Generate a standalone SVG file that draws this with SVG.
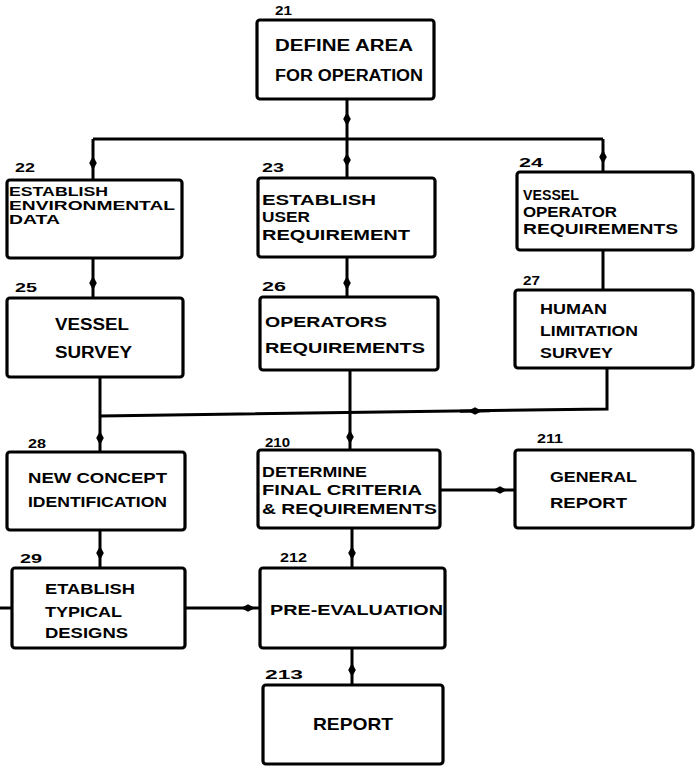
<svg xmlns="http://www.w3.org/2000/svg" width="700" height="766" viewBox="0 0 700 766">
<style>
.box{fill:#fff;stroke:#000;stroke-width:3.2}
.t{font-family:"Liberation Sans",Arial,sans-serif;font-weight:bold;fill:#000}
.lbl{font-family:"Liberation Sans",Arial,sans-serif;font-weight:bold;fill:#000;font-size:13px}
.c{fill:none;stroke:#000;stroke-width:3}
</style>
<defs>
<marker id="blob" viewBox="-7 -4 14 8" markerWidth="14" markerHeight="8" markerUnits="userSpaceOnUse" orient="auto">
<path d="M-7,0 L0,-3.8 L7,0 L0,3.8 Z" fill="#000"/>
</marker>
</defs>
<rect width="700" height="766" fill="#fff"/>
<g id="connectors">
<path class="c" d="M347 99 L347 119 L347 139" marker-mid="url(#blob)"/>
<path class="c" d="M93 139 L603 139"/>
<path class="c" d="M93 139 L93 163 L93 180" marker-mid="url(#blob)"/>
<path class="c" d="M347 139 L347 160 L347 177" marker-mid="url(#blob)"/>
<path class="c" d="M603 139 L603 157 L603 172" marker-mid="url(#blob)"/>
<path class="c" d="M93 258 L93 283 L93 298" marker-mid="url(#blob)"/>
<path class="c" d="M347 257 L347 283 L347 297" marker-mid="url(#blob)"/>
<path class="c" d="M603 250 L603 290"/>
<path class="c" d="M100 377 L100 438 L100 452" marker-mid="url(#blob)"/>
<path class="c" d="M350 370 L350 437 L350 450" marker-mid="url(#blob)"/>
<path class="c" d="M607 368 L607 409 L100 416"/>
<path class="c" d="M490 410.8 L475 411 L460 411.2" marker-mid="url(#blob)"/>
<path class="c" d="M100 530 L100 553 L100 568" marker-mid="url(#blob)"/>
<path class="c" d="M352 528 L352 553 L352 568" marker-mid="url(#blob)"/>
<path class="c" d="M440 490 L500 490 L515 490" marker-mid="url(#blob)"/>
<path class="c" d="M185 608 L248 608 L260 608" marker-mid="url(#blob)"/>
<path class="c" d="M0 608 L12 608"/>
<path class="c" d="M352 648 L352 670 L352 685" marker-mid="url(#blob)"/>
</g>
<g id="n21">
<rect class="box" x="257" y="20" width="177" height="79" rx="3"/>
<text class="lbl" x="275" y="15" textLength="17" lengthAdjust="spacingAndGlyphs">21</text>
<text class="t" x="275" y="51" font-size="16" textLength="138" lengthAdjust="spacingAndGlyphs">DEFINE AREA</text>
<text class="t" x="275" y="81" font-size="16" textLength="148" lengthAdjust="spacingAndGlyphs">FOR OPERATION</text>
</g>
<g id="n22">
<rect class="box" x="7" y="180" width="175" height="78" rx="3"/>
<text class="lbl" x="15" y="172" textLength="20" lengthAdjust="spacingAndGlyphs">22</text>
<text class="t" x="9" y="196" font-size="12" textLength="99" lengthAdjust="spacingAndGlyphs">ESTABLISH</text>
<text class="t" x="9" y="210" font-size="12" textLength="166" lengthAdjust="spacingAndGlyphs">ENVIRONMENTAL</text>
<text class="t" x="9" y="224" font-size="12" textLength="51" lengthAdjust="spacingAndGlyphs">DATA</text>
</g>
<g id="n23">
<rect class="box" x="258" y="178" width="177" height="79" rx="3"/>
<text class="lbl" x="262" y="172" textLength="22" lengthAdjust="spacingAndGlyphs">23</text>
<text class="t" x="262" y="205" font-size="14" textLength="114" lengthAdjust="spacingAndGlyphs">ESTABLISH</text>
<text class="t" x="262" y="222" font-size="14" textLength="48" lengthAdjust="spacingAndGlyphs">USER</text>
<text class="t" x="262" y="240" font-size="14" textLength="148" lengthAdjust="spacingAndGlyphs">REQUIREMENT</text>
</g>
<g id="n24">
<rect class="box" x="517" y="172" width="176" height="78" rx="3"/>
<text class="lbl" x="519" y="167" textLength="24" lengthAdjust="spacingAndGlyphs">24</text>
<text class="t" x="523" y="200" font-size="14" textLength="56" lengthAdjust="spacingAndGlyphs">VESSEL</text>
<text class="t" x="523" y="217" font-size="14" textLength="94" lengthAdjust="spacingAndGlyphs">OPERATOR</text>
<text class="t" x="523" y="234" font-size="14" textLength="155" lengthAdjust="spacingAndGlyphs">REQUIREMENTS</text>
</g>
<g id="n25">
<rect class="box" x="7" y="298" width="176" height="79" rx="3"/>
<text class="lbl" x="15" y="292" textLength="22" lengthAdjust="spacingAndGlyphs">25</text>
<text class="t" x="55" y="330" font-size="16" textLength="74" lengthAdjust="spacingAndGlyphs">VESSEL</text>
<text class="t" x="55" y="358" font-size="16" textLength="77" lengthAdjust="spacingAndGlyphs">SURVEY</text>
</g>
<g id="n26">
<rect class="box" x="260" y="297" width="178" height="73" rx="3"/>
<text class="lbl" x="262" y="291" textLength="24" lengthAdjust="spacingAndGlyphs">26</text>
<text class="t" x="265" y="327" font-size="15" textLength="122" lengthAdjust="spacingAndGlyphs">OPERATORS</text>
<text class="t" x="265" y="353" font-size="15" textLength="160" lengthAdjust="spacingAndGlyphs">REQUIREMENTS</text>
</g>
<g id="n27">
<rect class="box" x="515" y="290" width="178" height="78" rx="3"/>
<text class="lbl" x="523" y="285" textLength="17" lengthAdjust="spacingAndGlyphs">27</text>
<text class="t" x="540" y="314" font-size="14" textLength="67" lengthAdjust="spacingAndGlyphs">HUMAN</text>
<text class="t" x="540" y="336" font-size="14" textLength="98" lengthAdjust="spacingAndGlyphs">LIMITATION</text>
<text class="t" x="540" y="358" font-size="14" textLength="73" lengthAdjust="spacingAndGlyphs">SURVEY</text>
</g>
<g id="n28">
<rect class="box" x="7" y="452" width="178" height="78" rx="3"/>
<text class="lbl" x="28" y="448" textLength="18" lengthAdjust="spacingAndGlyphs">28</text>
<text class="t" x="28" y="483" font-size="15" textLength="139" lengthAdjust="spacingAndGlyphs">NEW CONCEPT</text>
<text class="t" x="28" y="507" font-size="15" textLength="139" lengthAdjust="spacingAndGlyphs">IDENTIFICATION</text>
</g>
<g id="n210">
<rect class="box" x="258" y="450" width="182" height="78" rx="3"/>
<text class="lbl" x="265" y="447" textLength="25" lengthAdjust="spacingAndGlyphs">210</text>
<text class="t" x="262" y="477" font-size="14" textLength="105" lengthAdjust="spacingAndGlyphs">DETERMINE</text>
<text class="t" x="262" y="495" font-size="14" textLength="160" lengthAdjust="spacingAndGlyphs">FINAL CRITERIA</text>
<text class="t" x="262" y="514" font-size="14" textLength="175" lengthAdjust="spacingAndGlyphs">&amp; REQUIREMENTS</text>
</g>
<g id="n211">
<rect class="box" x="515" y="450" width="178" height="78" rx="3"/>
<text class="lbl" x="537" y="443" textLength="26" lengthAdjust="spacingAndGlyphs">211</text>
<text class="t" x="550" y="482" font-size="15" textLength="87" lengthAdjust="spacingAndGlyphs">GENERAL</text>
<text class="t" x="550" y="508" font-size="15" textLength="77" lengthAdjust="spacingAndGlyphs">REPORT</text>
</g>
<g id="n29">
<rect class="box" x="12" y="568" width="173" height="80" rx="3"/>
<text class="lbl" x="20" y="563" textLength="22" lengthAdjust="spacingAndGlyphs">29</text>
<text class="t" x="45" y="594" font-size="15" textLength="90" lengthAdjust="spacingAndGlyphs">ETABLISH</text>
<text class="t" x="45" y="617" font-size="15" textLength="77" lengthAdjust="spacingAndGlyphs">TYPICAL</text>
<text class="t" x="45" y="638" font-size="15" textLength="83" lengthAdjust="spacingAndGlyphs">DESIGNS</text>
</g>
<g id="n212">
<rect class="box" x="260" y="568" width="185" height="80" rx="3"/>
<text class="lbl" x="280" y="562" textLength="27" lengthAdjust="spacingAndGlyphs">212</text>
<text class="t" x="270" y="615" font-size="15" textLength="173" lengthAdjust="spacingAndGlyphs">PRE-EVALUATION</text>
</g>
<g id="n213">
<rect class="box" x="263" y="685" width="180" height="79" rx="3"/>
<text class="lbl" x="265" y="679" textLength="38" lengthAdjust="spacingAndGlyphs">213</text>
<text class="t" x="313" y="730" font-size="17" textLength="80" lengthAdjust="spacingAndGlyphs">REPORT</text>
</g>
</svg>
